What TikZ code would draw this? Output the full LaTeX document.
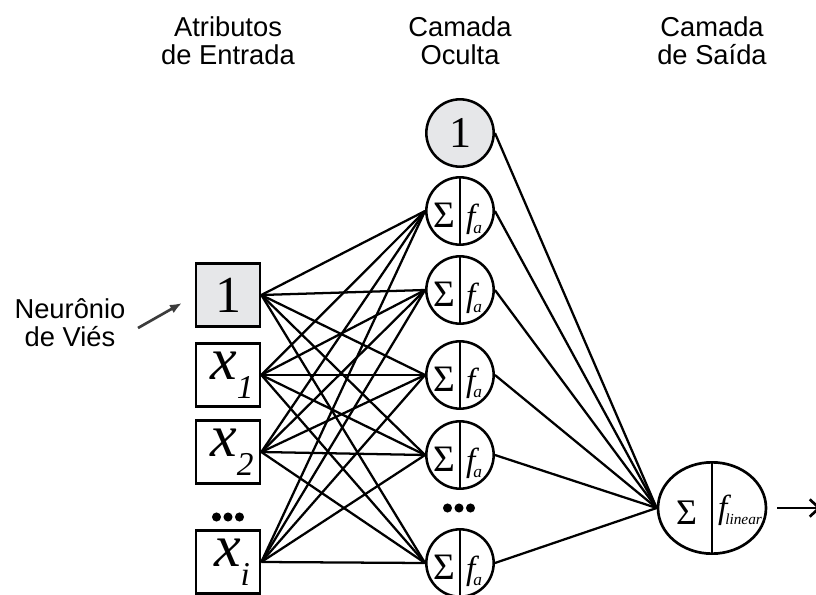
\documentclass[tikz,border=0pt]{standalone}
\usepackage{fontspec}
\setmainfont{Liberation Serif}
\newfontfamily\labelfont{Liberation Sans}
\usetikzlibrary{shapes.geometric, arrows.meta}
\definecolor{biasgray}{RGB}{230, 231, 233}
\definecolor{pointergray}{RGB}{60, 60, 60}

\newcommand{\xin}[1]{\hspace*{6pt}{\fontsize{45}{45}\selectfont\itshape x}\raisebox{-14pt}{\fontsize{25}{25}\selectfont\itshape #1}}
% soma a esquerda da divisoria, funcao a direita
\newcommand{\sumf}[3]{\raisebox{-12.5pt}[0pt][0pt]{\makebox[0pt][r]{\makebox[#1]{\fontsize{#2}{#2}\selectfont Σ}}\makebox[0pt][l]{\hspace*{4.5pt}#3}}}
\newcommand{\fsub}[3]{{\fontsize{#3}{#3}\selectfont\itshape f}\kern-1.5pt\raisebox{-4.5pt}{\fontsize{#2}{#2}\selectfont\itshape #1}}

\begin{document}
\begin{tikzpicture}[x=0.75pt, y=-0.75pt,
    inbox/.style={draw, line width=2pt, minimum width=48pt, minimum height=47pt,
                  inner sep=0pt, fill=white},
    divided/.style={path picture={\draw[line width=1.9pt] (path picture bounding box.north)
                    -- (path picture bounding box.south);}},
    hidden/.style={circle, draw, line width=1.9pt, minimum size=50.5pt, inner sep=0pt,
                   fill=white, divided},
    biasnode/.style={circle, draw, line width=1.9pt, minimum size=50.5pt, inner sep=0pt,
                     fill=biasgray, font=\fontsize{33}{33}\selectfont},
    outnode/.style={ellipse, draw, line width=2pt, minimum width=81pt, minimum height=68.5pt,
                    inner sep=0pt, fill=white, divided},
    link/.style={line width=1.7pt},
    title/.style={font=\labelfont\fontsize{20.5}{21}\selectfont, align=center}
]
    \useasboundingbox (0,0) rectangle (816,595);

    \node[title] (tin) at (228,41) {Atributos\\de Entrada};
    \node[title] (thid) at (460,41) {Camada\\Oculta};
    \node[title] (tout) at (712,41) {Camada\\de Saída};
    \node[title] (vies) at (70,323) {Neurônio\\de Viés};

    % entradas
    \node[inbox, fill=biasgray, font=\fontsize{39}{39}\selectfont] (in0) at (228,295) {1};
    \foreach \n/\s/\y in {1/1/375, 2/2/452, 3/i/562}
        \node[inbox] (in\n) at (228,\y) {\xin{\s}};

    % camada oculta
    \node[biasnode] (h0) at (460,133) {1};
    \foreach \n/\y in {1/211, 2/290, 3/375, 4/455, 5/563}
        \node[hidden] (h\n) at (460,\y) {\sumf{24pt}{28}{\fsub{a}{13}{25}}};

    % saida
    \node[outnode] (out) at (712,508) {\sumf{38pt}{27}{\raisebox{4.5pt}{\fsub{linear}{11.5}{25}}}};

    \foreach \dx in {-11.5, 0, 11.5} {
        \fill (228+\dx,517) circle (3.4pt);
        \fill (459+\dx,508) circle (3.4pt);
    }

    \foreach \i in {0,...,3}
        \foreach \j in {1,...,5}
            \draw[link] (in\i.east) -- (h\j.west);
    \foreach \j in {0,...,5}
        \draw[link] (h\j.east) -- (out.west);

    \coordinate (viesfrom) at (138,328);
    \coordinate (viesto) at (182,303);
    \draw[pointergray, line width=2pt, -{Latex[length=9pt, width=7pt]}] (viesfrom) -- (viesto);

    \coordinate (outtip) at (821,508);
    \draw[line width=2pt, -{Straight Barb[length=7pt, width=13pt]}] ([xshift=7.5pt]out.east) -- (outtip);
\end{tikzpicture}
\end{document}
